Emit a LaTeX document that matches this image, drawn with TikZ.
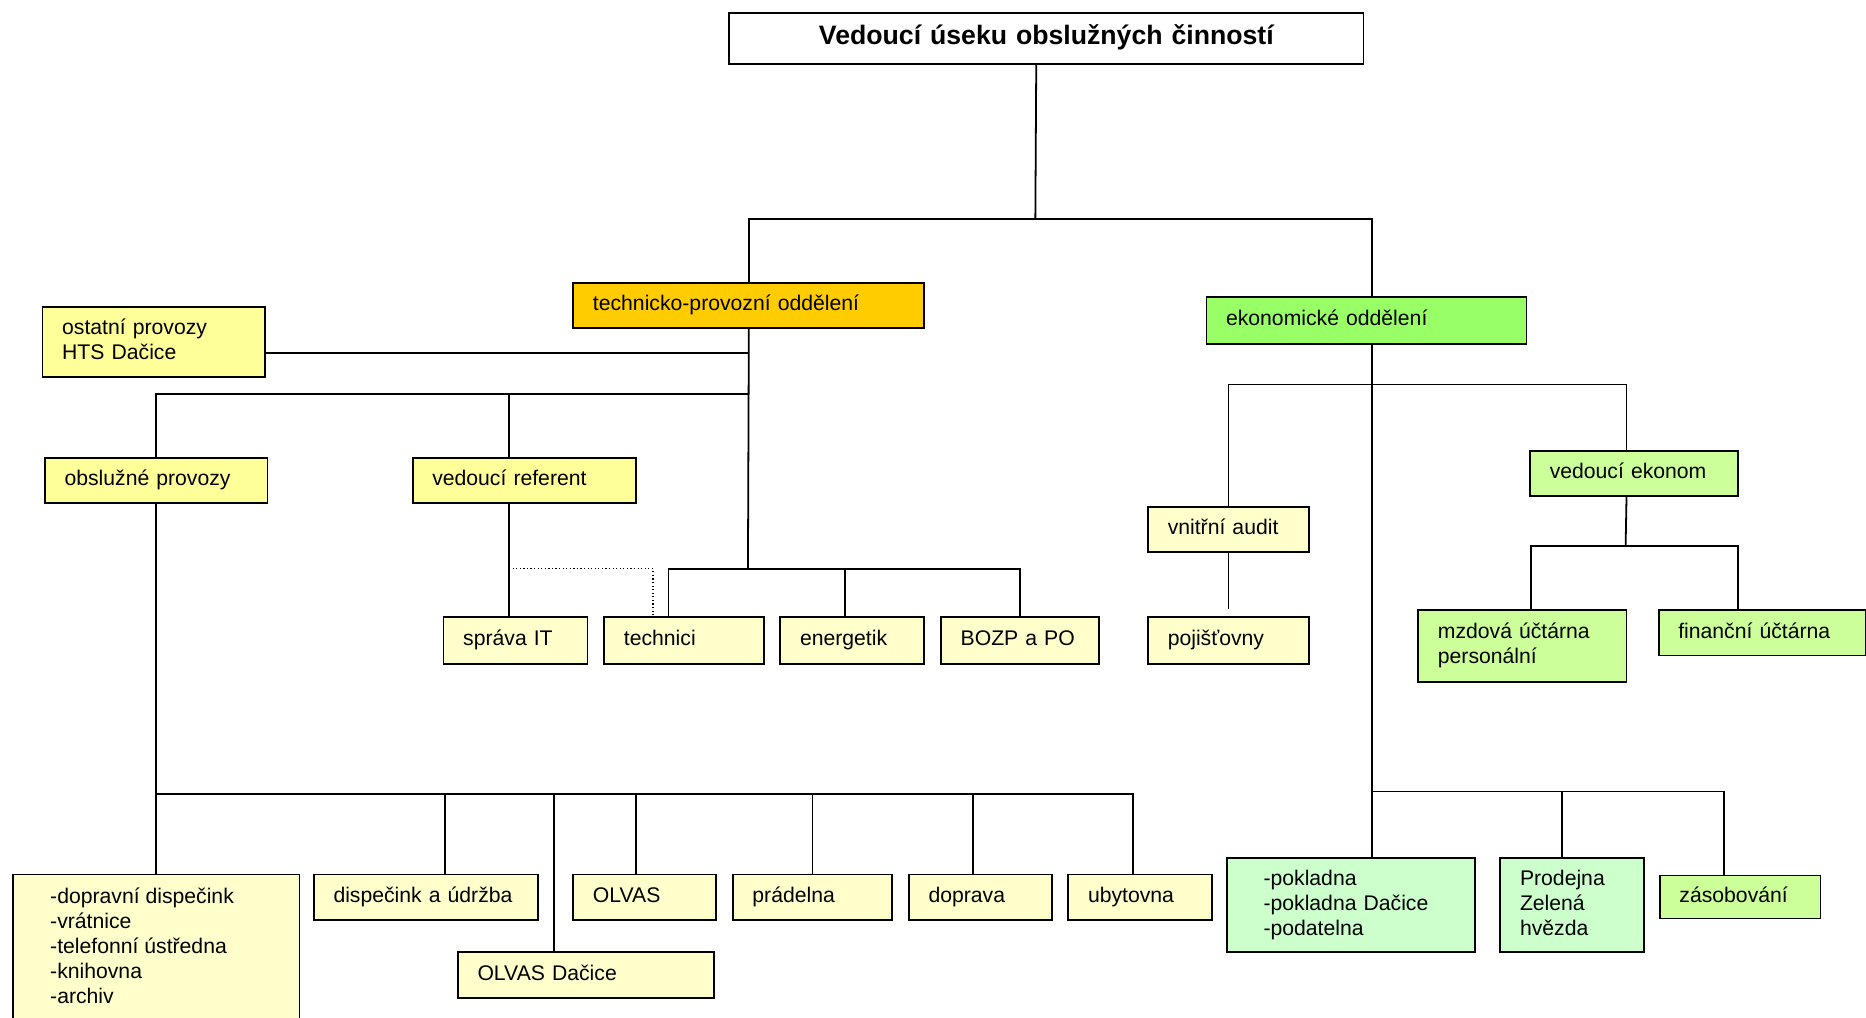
\documentclass[tikz,border=0pt]{standalone}
\usepackage{fontspec}
\setmainfont{Liberation Sans}
\newcommand\nf{\fontsize{17.8}{21}\selectfont}
\newcommand\tf{\fontsize{22.4}{26}\selectfont\bfseries}
\newcommand\boxstrut{\rule[-6pt]{0pt}{21pt}}
\definecolor{cOr}{HTML}{FFCC00}
\definecolor{cGr}{HTML}{99FF66}
\definecolor{cY}{HTML}{FFFF99}
\definecolor{cLY}{HTML}{FFFFCC}
\definecolor{cLG}{HTML}{CCFF99}
\definecolor{cMi}{HTML}{CCFFCC}
\begin{document}
\begin{tikzpicture}[x=1pt,y=-1pt,
  bx/.style={draw, line width=1.5pt, anchor=north west, align=left, inner ysep=0pt, inner xsep=16.5pt, font=\nf,
    execute at begin node=\boxstrut, execute at end node=\boxstrut},
  ln/.style={line width=1.5pt}]
\useasboundingbox (0,0) rectangle (1568,854.6);
\clip (0,0) rectangle (1568,854.6);

% nodes
\node[bx, fill=white, font=\tf, align=center, text width=500pt, minimum height=43pt] (ttl) at (612,10) {Vedoucí úseku obslužných činností};
\node[bx, fill=cOr, text width=262pt, minimum height=38pt] (tp) at (481,237) {technicko-provozní oddělení};
\node[bx, fill=cGr, text width=236pt, minimum height=39pt] (eo) at (1013,249) {ekonomické oddělení};
\node[bx, fill=cY, text width=154pt, minimum height=59pt] (ost) at (35,257) {ostatní provozy\\HTS Dačice};
\node[bx, fill=cY, text width=154pt, minimum height=38pt] (op) at (37,384) {obslužné provozy};
\node[bx, fill=cY, text width=155pt, minimum height=38pt] (vr) at (346,384) {vedoucí referent};
\node[bx, fill=cLY, text width=88pt, minimum height=39pt] (it) at (372,518) {správa IT};
\node[bx, fill=cLY, text width=101pt, minimum height=39pt] (te) at (507,518) {technici};
\node[bx, fill=cLY, text width=88pt, minimum height=39pt] (en) at (655,518) {energetik};
\node[bx, fill=cLY, text width=100pt, minimum height=39pt] (bo) at (790,518) {BOZP a PO};
\node[draw, line width=1.5pt, anchor=north west, fill=cLY, minimum width=241pt, minimum height=140pt, inner sep=0pt] (dop) at (10,734) {};
\node[anchor=north west, inner sep=0pt, align=left, font=\nf] (doptxt) at (42,746) {-dopravní dispečink\\-vrátnice\\-telefonní ústředna\\-knihovna\\-archiv};
\node[bx, fill=cLY, text width=155pt, minimum height=38pt] (du) at (263,734) {dispečink a údržba};
\node[bx, fill=cLY, text width=87pt, minimum height=38pt] (ol) at (481,734) {OLVAS};
\node[bx, fill=cLY, text width=101pt, minimum height=38pt] (pr) at (615,734) {prádelna};
\node[bx, fill=cLY, text width=87pt, minimum height=38pt] (dp) at (763,734) {doprava};
\node[bx, fill=cLY, text width=88pt, minimum height=38pt] (ub) at (897,734) {ubytovna};
\node[bx, fill=cLY, text width=182pt, minimum height=39pt] (od) at (384,799) {OLVAS Dačice};
\node[bx, fill=cLY, text width=102pt, minimum height=38pt] (va) at (964,425) {vnitřní audit};
\node[bx, fill=cLY, text width=102pt, minimum height=39pt] (poj) at (964,518) {pojišťovny};
\node[bx, fill=cLG, text width=142pt, minimum height=38pt] (ve) at (1285,378) {vedoucí ekonom};
\node[bx, fill=cLG, text width=142pt, minimum height=60pt] (mz) at (1191,512) {mzdová účtárna\\personální};
\node[bx, fill=cLG, text width=141pt, minimum height=38pt] (fi) at (1393,512) {finanční účtárna};
\node[bx, fill=cMi, inner xsep=31pt, text width=147pt, minimum height=79pt] (pok) at (1030,720) {-pokladna\\-pokladna Dačice\\-podatelna};
\node[bx, fill=cMi, text width=88pt, minimum height=79pt] (prd) at (1260,720) {Prodejna\\Zelená\\hvězda};
\node[bx, fill=cLG, text width=102pt, minimum height=36pt] (zas) at (1394,735) {zásobování};

% connectors, top
\coordinate (jt) at (870,184);
\draw[ln] ([xshift=-8.5pt]ttl.south) -- (jt);
\draw[ln] (tp.north) -- (tp.north |- jt) -- ([xshift=4.5pt]eo.north |- jt) -- ([xshift=4.5pt]eo.north);

% technical branch
\coordinate (jb) at (628.5,478);
\coordinate (jo) at (628.5,331);
\draw[ln] (tp.south) -- (jb);
\draw[ln] ([yshift=-9.5pt]ost.east) -- ([yshift=-9.5pt]ost.east -| tp.south);
\draw[ln] (op.north) -- (op.north |- jo) -- (jo);
\draw[ln] ([xshift=-13pt]vr.north) -- ([xshift=-13pt]vr.north |- jo);
\draw[ln] ([xshift=-13pt]vr.south) -- ([xshift=-13pt]vr.south |- it.north);
\draw[dotted, line width=1pt] ([xshift=-10pt]vr.south |- jb) -| ([xshift=-26pt]te.north);
\draw[ln] ([xshift=-13pt]te.north) -- ([xshift=-13pt]te.north |- jb) -- (bo.north |- jb) -- (bo.north);
\draw[ln] ([xshift=-6.5pt]en.north) -- ([xshift=-6.5pt]en.north |- jb);

% service branch
\coordinate (jp) at (130.5,667);
\draw[ln] (op.south) -- (dop.north);
\draw[ln] (jp) -- ([xshift=-6.5pt]ub.north |- jp) -- ([xshift=-6.5pt]ub.north);
\draw[ln] ([xshift=16pt]du.north |- jp) -- ([xshift=16pt]du.north);
\draw[ln] ([xshift=-26.5pt]od.north |- jp) -- ([xshift=-26.5pt]od.north);
\draw[ln] ([xshift=-7pt]ol.north |- jp) -- ([xshift=-7pt]ol.north);
\draw[ln] (pr.north |- jp) -- (pr.north);
\draw[ln] ([xshift=-6pt]dp.north |- jp) -- ([xshift=-6pt]dp.north);

% economic branch
\coordinate (je) at (1152,323);
\coordinate (jz) at (1152,665);
\coordinate (jv) at (1366,459);
\draw[ln] ([xshift=4.5pt]eo.south) -- ([xshift=17.5pt]pok.north);
\draw[ln] (va.north) -- (va.north |- je) -- ([xshift=-6.5pt]ve.north |- je) -- ([xshift=-6.5pt]ve.north);
\draw[ln] (va.south) -- ([yshift=6pt]poj.north);
\draw[ln] ([xshift=-6.5pt]ve.south) -- (jv);
\draw[ln] ([xshift=7.5pt]mz.north) -- ([xshift=7.5pt]mz.north |- jv) -- ([xshift=-20.5pt]fi.north |- jv) -- ([xshift=-20.5pt]fi.north);
\draw[ln] (jz) -- ([xshift=-13.5pt]zas.north |- jz) -- ([xshift=-13.5pt]zas.north);
\draw[ln] ([xshift=-8.5pt]prd.north |- jz) -- ([xshift=-8.5pt]prd.north);
\end{tikzpicture}
\end{document}
